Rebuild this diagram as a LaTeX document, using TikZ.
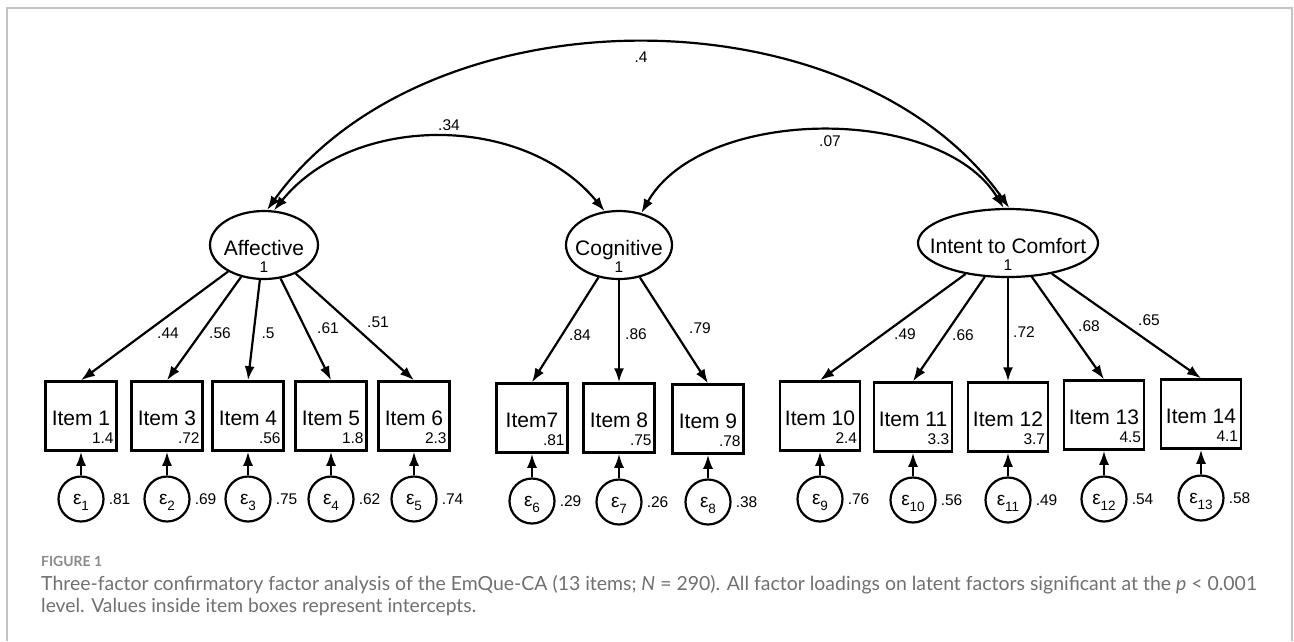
\documentclass[tikz,border=0pt]{standalone}
\usepackage{graphicx}
\usepackage{fontspec}
\setmainfont{Liberation Sans}
\newfontfamily\capfont{Lato}
\usepackage{tikz}
\usetikzlibrary{shapes.geometric}
\usetikzlibrary{arrows.meta}
\usetikzlibrary{positioning}
\definecolor{capgray}{HTML}{707070}
\definecolor{figgray}{HTML}{8A8A8A}
\definecolor{framegray}{HTML}{C4C4C4}

\begin{document}
\begin{tikzpicture}[x=1pt,y=-1pt,
    latent/.style={draw, ellipse, line width=2.2pt, inner sep=0pt, minimum height=68pt},
    lvname/.style={anchor=base, inner sep=0pt, font=\fontsize{21}{21}\selectfont},
    itembox/.style={draw, rectangle, line width=2.5pt, minimum width=71pt, minimum height=69pt,
        inner xsep=5pt, text height=19pt, text depth=0pt, font=\fontsize{21}{21}\selectfont},
    errc/.style={draw, circle, line width=2.2pt, minimum size=45pt, inner sep=0pt,
        text height=10pt, text depth=0pt, font=\fontsize{19}{19}\selectfont},
    num/.style={inner sep=1pt, font=\fontsize{15.5}{15.5}\selectfont},
    load/.style={-{Latex[length=14pt,width=10pt]}, line width=2.2pt},
    corr/.style={{Latex[length=14pt,width=10pt]}-{Latex[length=14pt,width=10pt]}, line width=2.2pt},
    captext/.style={anchor=base west, inner sep=0pt, text=capgray, font=\capfont\fontsize{18}{18}\selectfont}]

    \useasboundingbox (0,0) rectangle (1294,641);
    \fill[white] (0,0) rectangle (1294,641);

    % Frame
    \draw[framegray, line width=1.2pt] (7,641) -- (7,8) -- (1292,8) -- (1292,641);

    % Latent factors
    \node[latent, minimum width=108pt] (aff) at (264,245) {};
    \node[latent, minimum width=106pt] (cog) at (619,245) {};
    \node[latent, minimum width=180pt] (int) at (1008,243) {};
    \node[lvname] (afft) at (264,255) {Affective};
    \node[lvname] (cogt) at (619,255) {Cognitive};
    \node[lvname] (intt) at (1008,253) {Intent to Comfort};
    \node[num, anchor=base] (affv) at (264,272) {1};
    \node[num, anchor=base] (cogv) at (619,272) {1};
    \node[num, anchor=base] (intv) at (1008,270) {1};

    % Covariances
    \draw[corr] (aff.85) .. controls (426,-11) and (852,-13) .. (int.88);
    \draw[corr] (aff.74) .. controls (353,113) and (524,113) .. (cog.113);
    \draw[corr] (cog.55) .. controls (702,106) and (940,104) .. (int.97);
    \node[num] (c1) at (641,57) {.4};
    \node[num] (c2) at (449,125) {.34};
    \node[num] (c3) at (830,141) {.07};

    % Items with intercepts
    \foreach \i/\x/\y/\txt/\ic in {1/81/416/Item 1/1.4, 2/167/416/Item 3/.72, 3/248/416/Item 4/.56,
        4/331/416/Item 5/1.8, 5/414/416/Item 6/2.3, 6/532/418/Item7/.81, 7/619/418/Item 8/.75,
        8/708/419/Item 9/.78, 9/820/416/Item 10/2.4, 10/913/417/Item 11/3.3, 11/1008/417/Item 12/3.7,
        12/1104/415/Item 13/4.5, 13/1201/414/Item 14/4.1} {
        \node[itembox, label={[num, anchor=base east, xshift=-3pt, yshift=8pt]south east:\ic}]
            (it\i) at (\x,\y) {\txt};
    }

    % Error terms
    \foreach \i/\x/\y/\ev in {1/81/499/.81, 2/167/499/.69, 3/248/499/.75, 4/331/499/.62,
        5/414/499/.74, 6/532/501/.29, 7/619/502/.26, 8/708/502/.38, 9/820/499/.76,
        10/913/500/.56, 11/1008/500/.49, 12/1104/499/.54, 13/1201/498/.58} {
        \node[errc, label={[num, label distance=3pt]right:\ev}] (e\i) at (\x,\y)
            {ε\raisebox{-6pt}{\fontsize{13.5}{13.5}\selectfont\i}};
        \draw[load] (e\i) -- (it\i);
    }

    % Loadings
    \foreach \i in {1,...,5} \draw[load] (aff) -- (it\i.north);
    \foreach \i in {6,7,8} \draw[load] (cog) -- (it\i.north);
    \foreach \i in {9,...,13} \draw[load] (int) -- (it\i.north);
    \foreach \n/\x/\y/\v in {1/168/333/.44, 2/220/333/.56, 3/268/333/.5, 4/328/328/.61,
        5/378/322/.51, 6/580/335/.84, 7/636/334/.86, 8/700/328/.79, 9/905/334/.49,
        10/963/335/.66, 11/1024/332/.72, 12/1089/326/.68, 13/1149/320/.65} {
        \node[num] (l\n) at (\x,\y) {\v};
    }

    % Caption
    \node[anchor=base west, inner sep=0pt, text=figgray, font=\capfont\bfseries\fontsize{16}{16}\selectfont]
        (fig) at (41,566) {\resizebox{61pt}{!}{FIGURE 1}};
    \node[captext] (cap1) at (41,590)
        {\resizebox{1216pt}{!}{Three-factor confirmatory factor analysis of the EmQue-CA (13 items; \textit{N} = 290). All factor loadings on latent factors significant at the \textit{p} < 0.001}};
    \node[captext] (cap2) at (41,612)
        {\resizebox{435pt}{!}{level. Values inside item boxes represent intercepts.}};

\end{tikzpicture}
\end{document}
